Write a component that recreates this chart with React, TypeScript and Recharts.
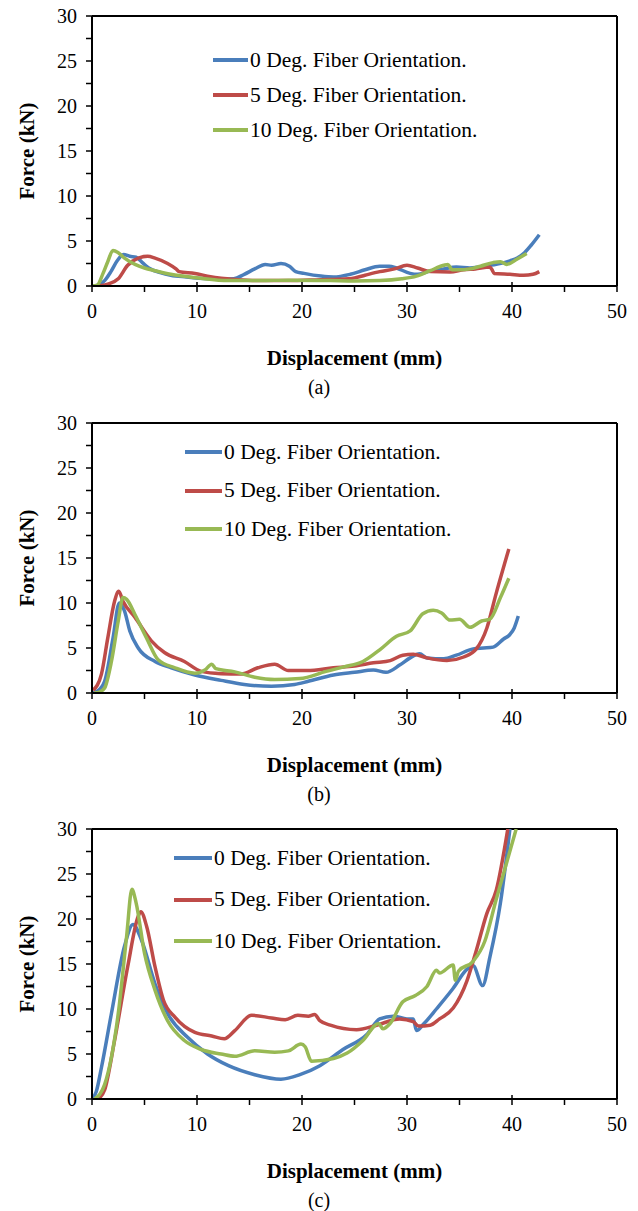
import { LineChart, Line, XAxis, YAxis, Legend, ReferenceLine, Label } from "recharts";

type Pt = [number, number];

const FONT = "'Liberation Serif', 'Times New Roman', serif";

const seriesNames = [
  "0 Deg. Fiber Orientation.",
  "5 Deg. Fiber Orientation.",
  "10 Deg. Fiber Orientation.",
];
const seriesColors = ["#4a7ebb", "#be4b48", "#98b954"];

const xTicks = [0, 5, 10, 15, 20, 25, 30, 35, 40, 45, 50];
const yTicks = [0, 2.5, 5, 7.5, 10, 12.5, 15, 17.5, 20, 22.5, 25, 27.5, 30];

// (a) displacement (mm), force (kN)
const a0: Pt[] = [
  [0, 0], [0.6, 0.1], [1.2, 0.6], [1.8, 1.6], [2.4, 2.8], [3, 3.5], [3.6, 3.3], [4.2, 3.2],
  [4.8, 2.6], [5.4, 2.0], [6.5, 1.5], [7.5, 1.2], [9, 1.0], [11, 0.8], [12.5, 0.75], [13.5, 0.8],
  [14.5, 1.3], [15.5, 1.9], [16.5, 2.4], [17.1, 2.3], [18, 2.5], [18.8, 2.2], [19.4, 1.6],
  [20.2, 1.4], [21.8, 1.1], [23, 1.0], [24.6, 1.3], [26, 1.8], [27.4, 2.2], [28.3, 2.2],
  [29, 2.0], [30.3, 1.4], [31, 1.3], [32, 1.6], [33.5, 1.9], [34.7, 2.1], [36, 2.0],
  [37, 2.15], [38.5, 2.4], [39.8, 2.8], [40.5, 3.1], [41.1, 3.6], [41.8, 4.5], [42.6, 5.7],
];
const a5: Pt[] = [
  [0.6, 0], [1.5, 0.2], [2.5, 0.8], [3.4, 2.3], [4.4, 3.1], [5.3, 3.3], [6, 3.1], [7.2, 2.5],
  [8, 1.9], [8.3, 1.6], [9.8, 1.4], [11, 1.1], [12.3, 0.85], [13.9, 0.7], [16, 0.6], [18.7, 0.6],
  [21.8, 0.7], [23.5, 0.75], [25, 0.9], [26, 1.2], [27.4, 1.6], [28.8, 1.9], [30, 2.3], [31, 2.0],
  [32.2, 1.6], [34.1, 1.55], [35.4, 1.8], [36.5, 1.9], [37.9, 2.1], [38.1, 1.8], [38.3, 1.4],
  [39.8, 1.3], [41.1, 1.2], [42, 1.3], [42.6, 1.6],
];
const a10: Pt[] = [
  [0, 0], [0.5, 0.1], [1.05, 1.4], [1.5, 2.7], [2, 3.95], [2.5, 3.7], [3.1, 3.1], [4.1, 2.4],
  [5, 2.0], [6, 1.7], [7.5, 1.3], [10.1, 0.9], [13, 0.6], [16, 0.6], [18.7, 0.65], [22.7, 0.6],
  [25, 0.55], [27.4, 0.6], [29.5, 0.8], [30.9, 1.1], [32.2, 1.7], [33.5, 2.3], [33.9, 2.4],
  [34.3, 1.8], [35, 1.8], [36, 1.9], [37, 2.2], [38.2, 2.6], [38.9, 2.7], [39.5, 2.4],
  [40.5, 3.0], [41.4, 3.6],
];

// (b)
const b0: Pt[] = [
  [0, 0], [0.5, 0.2], [1.2, 1.3], [2, 6.1], [2.6, 10.0], [3.1, 9.1], [3.6, 6.9], [4.4, 5.0],
  [6, 3.5], [7.55, 2.8], [9.8, 2.0], [12.3, 1.4], [14.5, 0.95], [17.1, 0.75], [19.3, 0.95],
  [20.6, 1.3], [23, 2.0], [25, 2.3], [26.8, 2.55], [28, 2.3], [29.3, 3.1], [30.3, 3.9],
  [31.2, 4.35], [31.9, 3.9], [33.5, 3.8], [34.7, 4.2], [36.3, 4.9], [37.3, 5.0], [38.2, 5.1],
  [39.2, 6.0], [39.8, 6.5], [40.2, 7.2], [40.6, 8.55],
];
const b5: Pt[] = [
  [0.1, 0.3], [0.9, 2.1], [1.5, 6.1], [2.15, 10.2], [2.55, 11.3], [2.95, 10.2], [4.1, 8.4],
  [5.65, 5.8], [6.9, 4.5], [8.8, 3.5], [10.4, 2.4], [12.3, 2.15], [14.2, 2.1], [15.8, 2.8],
  [17.4, 3.2], [18.7, 2.5], [20.5, 2.5], [23, 2.8], [25, 3.0], [26.8, 3.35], [28.4, 3.6],
  [29.6, 4.2], [30.6, 4.3], [31.9, 3.9], [33.8, 3.6], [35.4, 4.0], [36.6, 4.9], [37.6, 7.2],
  [38.5, 11.1], [39.7, 16.0],
];
const b10: Pt[] = [
  [0.2, 0], [0.7, 0.1], [1.2, 0.55], [1.85, 3.5], [2.5, 8.0], [2.95, 10.6], [3.3, 10.4],
  [4.1, 8.7], [5.2, 6.1], [6.3, 3.7], [7.9, 2.8], [9.8, 2.2], [10.8, 2.6], [11.4, 3.2],
  [11.8, 2.7], [13.6, 2.35], [15.5, 1.75], [17.4, 1.5], [19.8, 1.6], [22.3, 2.4], [24, 2.9],
  [25.8, 3.5], [27.4, 4.8], [29, 6.3], [30.3, 6.9], [31.5, 8.8], [32.5, 9.2], [33.3, 8.9],
  [34.1, 8.1], [35, 8.2], [36, 7.3], [37.1, 8.0], [37.9, 8.2], [38.9, 10.6], [39.7, 12.75],
];

// (c)
const c0: Pt[] = [
  [0, 0], [0.4, 0.8], [0.9, 3.5], [1.85, 9.5], [3.1, 17], [3.9, 19.4], [4.7, 17.7], [6, 12.8],
  [7.2, 9.5], [9.1, 6.85], [11, 5.0], [13, 3.7], [15.5, 2.7], [18, 2.2], [19.8, 2.7],
  [21.7, 3.7], [23.9, 5.5], [26.2, 7.2], [27.4, 8.9], [28.7, 9.2], [30, 8.9], [30.6, 8.9],
  [30.9, 7.6], [31.6, 8.35], [32.8, 10.0], [34.4, 12.3], [35.7, 14.4], [36.3, 14.8],
  [37.2, 12.6], [37.9, 15.8], [38.9, 21.8], [39.8, 30],
];
const c5: Pt[] = [
  [0.6, 0], [1.2, 1.0], [2.15, 6.5], [3.4, 14.7], [4.4, 20.3], [4.65, 20.8], [5.2, 19.2],
  [6, 14.7], [6.8, 11], [7.9, 9.1], [9.8, 7.4], [11.4, 7.0], [12.6, 6.7], [13.6, 7.6],
  [15.2, 9.3], [17.1, 9.0], [18.4, 8.8], [19.6, 9.3], [20.6, 9.2], [21.2, 9.4], [21.7, 8.7],
  [22.7, 8.2], [25.2, 7.7], [27.1, 8.2], [29.3, 8.9], [30.6, 8.6], [31.1, 8.1], [32.2, 8.2],
  [33.1, 8.9], [34.4, 10.1], [35.7, 13.1], [36.6, 16.5], [37.6, 20.6], [38.5, 23.2], [39.6, 30],
];
const c10: Pt[] = [
  [0.25, 0], [1.2, 1.6], [2.5, 9.5], [3.3, 18.1], [3.8, 23.3], [4.2, 21.8], [5, 16.2], [6, 12.1],
  [7.2, 8.7], [8.8, 6.5], [10.4, 5.5], [12.3, 5.0], [13.6, 4.75], [15.5, 5.35], [17.4, 5.2],
  [18.7, 5.35], [19.9, 6.1], [20.3, 5.8], [20.9, 4.2], [23, 4.5], [24.3, 5.1], [25.8, 6.5],
  [27.3, 8.4], [27.7, 7.8], [28.4, 8.4], [29.6, 10.8], [30.8, 11.5], [31.9, 12.5], [32.8, 14.3],
  [33.1, 14.0], [34.4, 14.9], [34.6, 13.2], [34.9, 14.2], [36.3, 15.3], [37.4, 17.5],
  [38.5, 22.2], [40.4, 30],
];

const toRows = (pts: Pt[]) => pts.map(([x, y]) => ({ x, y }));

function XTick(props: any) {
  const { x, y, payload } = props;
  const v = payload.value;
  const major = v % 10 === 0;
  return (
    <g>
      <line x1={x} x2={x} y1={major ? y - 4 : y} y2={y + 6} stroke="#000" strokeWidth={1.5} />
      {major && (
        <text x={x} y={y + 32} textAnchor="middle" fontSize={20} fontFamily={FONT} fill="#000">
          {v}
        </text>
      )}
    </g>
  );
}

function YTick(props: any) {
  const { x, y, payload } = props;
  const v = payload.value;
  const major = v % 5 === 0;
  return (
    <g>
      <line x1={x - 6} x2={x} y1={y} y2={y} stroke="#000" strokeWidth={1.5} />
      {major && (
        <text x={x - 15} y={y + 7} textAnchor="end" fontSize={20} fontFamily={FONT} fill="#000">
          {v}
        </text>
      )}
    </g>
  );
}

function LegendBox({ payload, len, gap }: any) {
  const items = [...(payload || [])].sort(
    (p: any, q: any) => seriesNames.indexOf(p.value) - seriesNames.indexOf(q.value)
  );
  return (
    <div style={{ fontFamily: FONT, fontSize: 21.5, color: "#000" }}>
      {items.map((p: any) => (
        <div key={p.value} style={{ display: "flex", alignItems: "center", height: gap }}>
          <div style={{ width: len, height: 4, background: p.color }} />
          <span style={{ marginLeft: 2, whiteSpace: "nowrap" }}>{p.value}</span>
        </div>
      ))}
    </div>
  );
}

interface PanelProps {
  top: number;
  caption: string;
  series: Pt[][];
  legendX: number;
  legendY: number;
  legendLen: number;
  legendGap: number;
}

function Panel({ top, caption, series, legendX, legendY, legendLen, legendGap }: PanelProps) {
  return (
    <div style={{ position: "absolute", left: 0, top, width: 638, height: 400 }}>
      <LineChart width={638} height={400} margin={{ top: 16, right: 21, left: 0, bottom: 0 }}>
        <XAxis
          dataKey="x"
          type="number"
          domain={[0, 50]}
          ticks={xTicks}
          interval={0}
          height={114}
          tickSize={0}
          tickMargin={0}
          tickLine={false}
          tick={<XTick />}
          axisLine={{ stroke: "#000", strokeWidth: 2 }}
          allowDataOverflow
        >
          <Label
            content={(p: any) => {
              const vb = p.viewBox;
              return (
                <text
                  x={vb.x + vb.width / 2}
                  y={vb.y + 79}
                  textAnchor="middle"
                  fontSize={21}
                  fontWeight="bold"
                  fontFamily={FONT}
                  fill="#000"
                >
                  Displacement (mm)
                </text>
              );
            }}
          />
        </XAxis>
        <YAxis
          type="number"
          domain={[0, 30]}
          ticks={yTicks}
          interval={0}
          width={92}
          tickSize={0}
          tickMargin={0}
          tickLine={false}
          tick={<YTick />}
          axisLine={{ stroke: "#000", strokeWidth: 2 }}
          allowDataOverflow
        >
          <Label
            content={(p: any) => {
              const vb = p.viewBox;
              const cx = vb.x + 27;
              const cy = vb.y + vb.height / 2;
              return (
                <text
                  x={cx}
                  y={cy}
                  transform={`rotate(-90 ${cx} ${cy})`}
                  textAnchor="middle"
                  dominantBaseline="central"
                  fontSize={21}
                  fontWeight="bold"
                  fontFamily={FONT}
                  fill="#000"
                >
                  Force (kN)
                </text>
              );
            }}
          />
        </YAxis>
        <ReferenceLine y={30} stroke="#000" strokeWidth={2} />
        <ReferenceLine x={50} stroke="#000" strokeWidth={2} />
        {series.map((pts, i) => (
          <Line
            key={seriesNames[i]}
            data={toRows(pts)}
            dataKey="y"
            name={seriesNames[i]}
            type="monotone"
            stroke={seriesColors[i]}
            strokeWidth={3.5}
            dot={false}
            activeDot={false}
            isAnimationActive={false}
          />
        ))}
        <Legend
          layout="vertical"
          align="center"
          verticalAlign="middle"
          wrapperStyle={{ left: legendX, top: legendY - legendGap / 2, width: "auto" }}
          content={(p: any) => <LegendBox {...p} len={legendLen} gap={legendGap} />}
        />
      </LineChart>
      <div
        style={{
          position: "absolute",
          left: 0,
          top: 375,
          width: 638,
          textAlign: "center",
          fontFamily: FONT,
          fontSize: 20,
          lineHeight: "24px",
        }}
      >
        {caption}
      </div>
    </div>
  );
}

export default function App() {
  return (
    <div style={{ position: "absolute", left: 0, top: 0, width: 638, height: 1211, background: "#fff" }}>
      <Panel top={0} caption="(a)" series={[a0, a5, a10]} legendX={213} legendY={60} legendLen={35} legendGap={35} />
      <Panel top={407} caption="(b)" series={[b0, b5, b10]} legendX={185} legendY={45} legendLen={37} legendGap={38.5} />
      <Panel top={813} caption="(c)" series={[c0, c5, c10]} legendX={174} legendY={45} legendLen={38} legendGap={41.5} />
    </div>
  );
}
